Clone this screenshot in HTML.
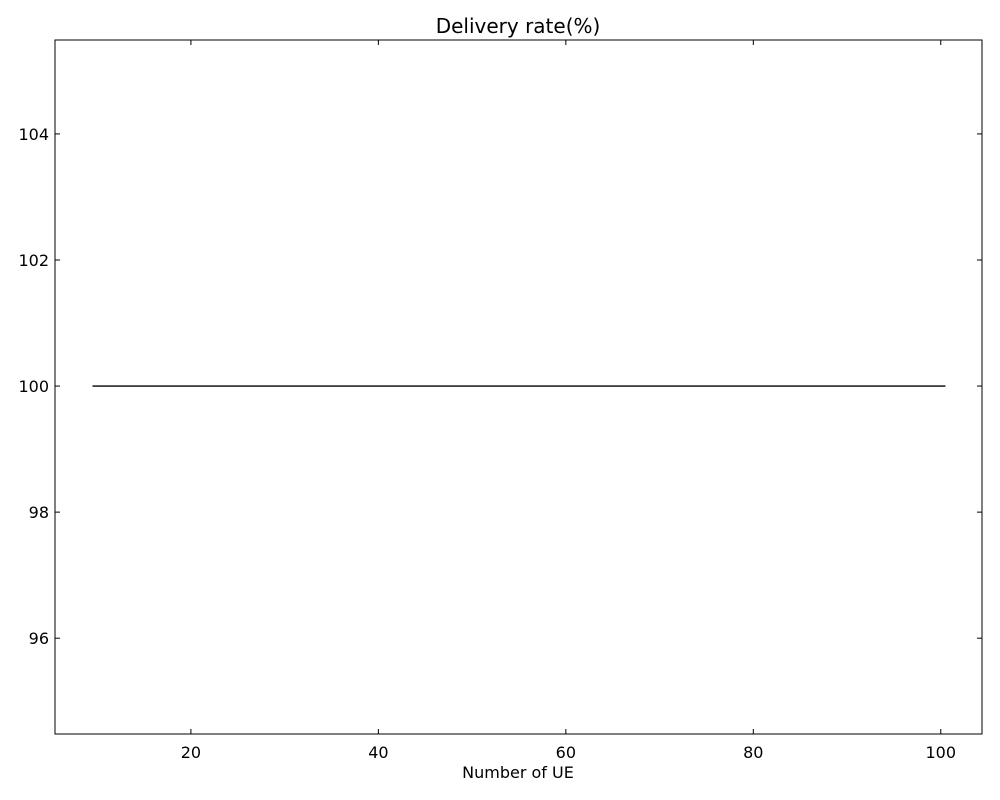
<!DOCTYPE html>
<html><head><meta charset="utf-8"><style>body{margin:0;background:#fff}svg{display:block}</style></head>
<body>
<svg id="chart" width="1000" height="800" xmlns="http://www.w3.org/2000/svg" font-family="DejaVu Sans, Liberation Sans, sans-serif"></svg>
<script>
const xValues=[9.5,20,30,40,50,60,70,80,90,100.5];
const yValues=[100,100,100,100,100,100,100,100,100,100];
const xTicks=[20,40,60,80,100];
const yTicks=[96,98,100,102,104];
const L=55,R=982,T=40,B=734,xmin=5.5,xmax=104.4,ymin=94.48,ymax=105.49;
const sx=v=>L+(v-xmin)/(xmax-xmin)*(R-L);
const sy=v=>B-(v-ymin)/(ymax-ymin)*(B-T);
const svg=document.getElementById('chart');const NS='http://www.w3.org/2000/svg';
function mk(t,a,txt){const e=document.createElementNS(NS,t);for(const k in a)e.setAttribute(k,a[k]);if(txt!==undefined)e.textContent=txt;svg.appendChild(e);return e;}
let e;
e=mk('text',{x:518,y:33,'text-anchor':'middle','font-size':20},'Delivery rate(%)');


e=mk('polyline',{points:xValues.map((x,i)=>sx(x)+','+sy(yValues[i])).join(' '),fill:'none',stroke:'#000','stroke-width':1.3});


xTicks.forEach(t=>{const x=sx(t);
mk('line',{x1:x,x2:x,y1:B,y2:B-5,stroke:'#000'});mk('line',{x1:x,x2:x,y1:T,y2:T+5,stroke:'#000'});
e=mk('text',{x:x,y:B+24,'text-anchor':'middle','font-size':16},t);

});
yTicks.forEach(t=>{const y=sy(t);
mk('line',{x1:L,x2:L+5,y1:y,y2:y,stroke:'#000'});mk('line',{x1:R,x2:R-5,y1:y,y2:y,stroke:'#000'});
e=mk('text',{x:L-6,y:y+6,'text-anchor':'end','font-size':16},t);

});
e=mk('rect',{x:L,y:T,width:R-L,height:B-T,fill:'none',stroke:'#000','stroke-width':1});


e=mk('text',{x:518,y:778,'text-anchor':'middle','font-size':16},'Number of UE');


</script>
</body></html>
